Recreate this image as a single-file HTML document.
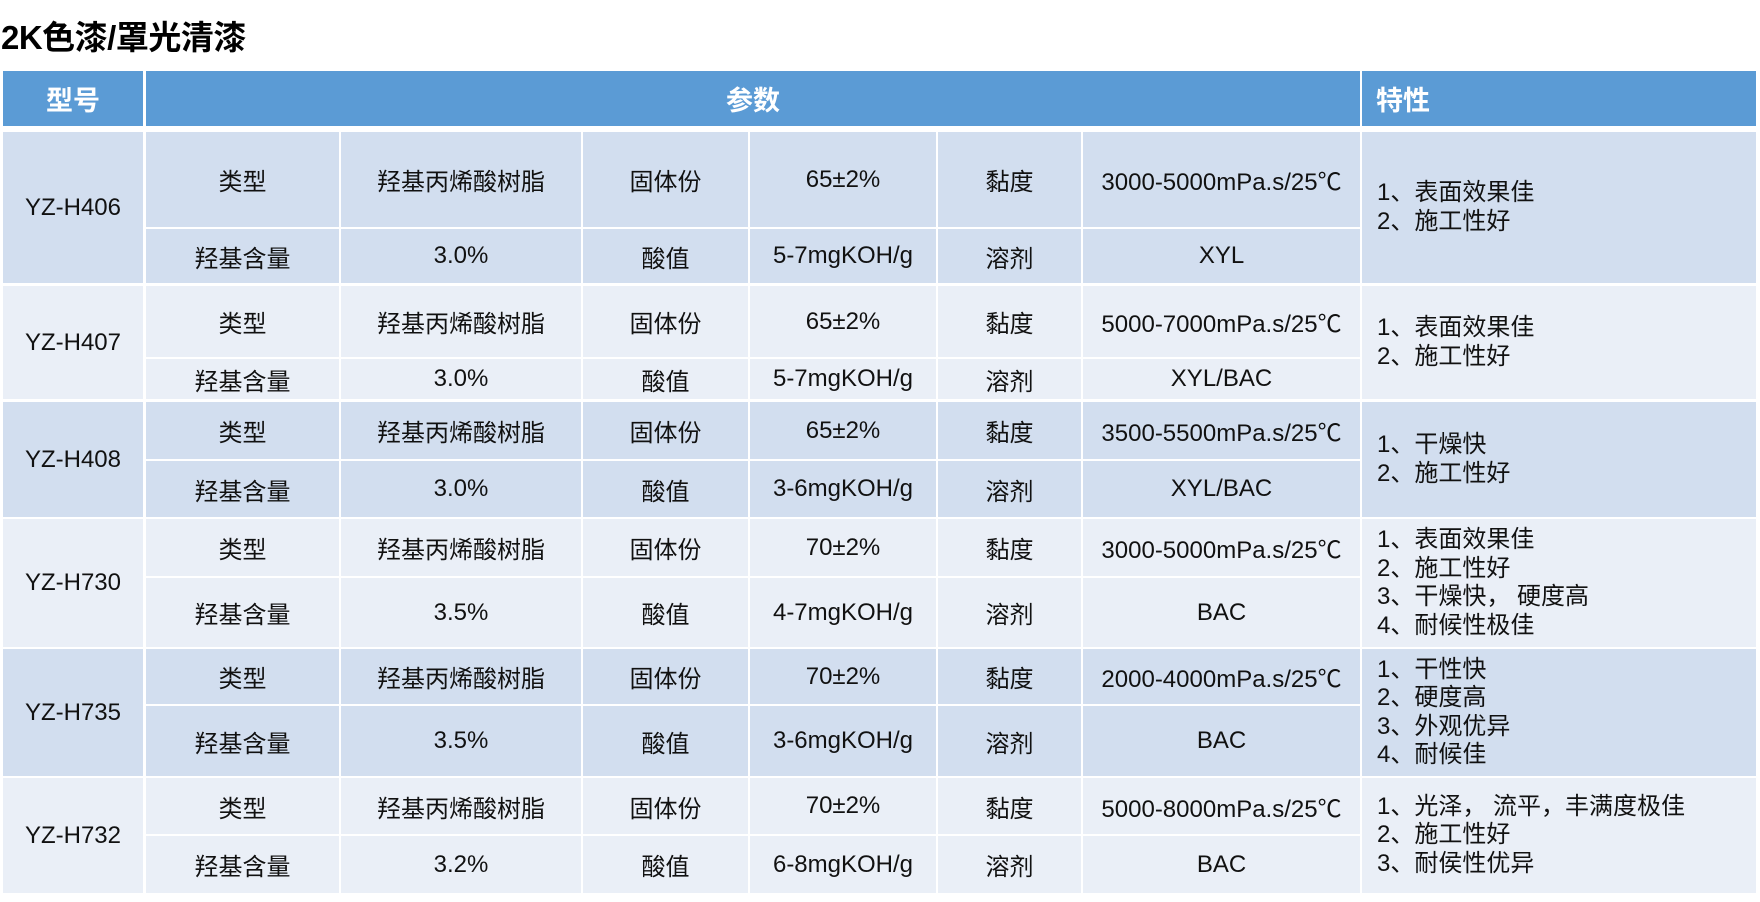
<!DOCTYPE html>
<html><head><meta charset="utf-8">
<style>
html,body{margin:0;padding:0;background:#fff;}
body{width:1760px;height:902px;position:relative;overflow:hidden;font-family:"Liberation Sans","Noto Sans CJK SC",sans-serif;color:#111;}
.t{position:absolute;left:1px;top:11px;font-size:33px;font-weight:bold;font-family:"Liberation Sans","Noto Sans CJK SC",sans-serif;color:#000;letter-spacing:-0.5px;}
.c{position:absolute;display:flex;align-items:center;justify-content:center;font-size:24px;white-space:nowrap;}
.h{background:#5B9BD5;color:#fff;font-weight:bold;font-size:27px;}
.d{background:#D2DEEF;}
.l{background:#EAEFF7;}
.f{justify-content:flex-start;padding-left:15px;box-sizing:border-box;line-height:28.5px;}
</style></head><body>
<div class="t">2K色漆/罩光清漆</div>

<!-- header -->
<div class="c h" style="left:3px;top:71px;width:140px;height:55px;">型号</div>
<div class="c h" style="left:146px;top:71px;width:1214px;height:55px;">参数</div>
<div class="c h" style="left:1362px;top:71px;width:394px;height:55px;justify-content:flex-start;padding-left:14px;box-sizing:border-box;">特性</div>

<!-- R1 -->
<div class="c d" style="left:3px;top:132px;width:140px;height:151px;">YZ-H406</div>
<div class="c d" style="left:146px;top:132px;width:193px;height:95px;">类型</div>
<div class="c d" style="left:341px;top:132px;width:240px;height:95px;">羟基丙烯酸树脂</div>
<div class="c d" style="left:583px;top:132px;width:165px;height:95px;">固体份</div>
<div class="c d" style="left:750px;top:132px;width:186px;height:95px;">65±2%</div>
<div class="c d" style="left:938px;top:132px;width:143px;height:95px;">黏度</div>
<div class="c d" style="left:1083px;top:132px;width:277px;height:95px;">3000-5000mPa.s/25℃</div>
<div class="c d" style="left:146px;top:229px;width:193px;height:54px;">羟基含量</div>
<div class="c d" style="left:341px;top:229px;width:240px;height:54px;">3.0%</div>
<div class="c d" style="left:583px;top:229px;width:165px;height:54px;">酸值</div>
<div class="c d" style="left:750px;top:229px;width:186px;height:54px;">5-7mgKOH/g</div>
<div class="c d" style="left:938px;top:229px;width:143px;height:54px;">溶剂</div>
<div class="c d" style="left:1083px;top:229px;width:277px;height:54px;">XYL</div>
<div class="c d f" style="left:1362px;top:132px;width:394px;height:151px;"><div>1、表面效果佳<br>2、施工性好</div></div>

<!-- R2 -->
<div class="c l" style="left:3px;top:286px;width:140px;height:113px;">YZ-H407</div>
<div class="c l" style="left:146px;top:286px;width:193px;height:71px;">类型</div>
<div class="c l" style="left:341px;top:286px;width:240px;height:71px;">羟基丙烯酸树脂</div>
<div class="c l" style="left:583px;top:286px;width:165px;height:71px;">固体份</div>
<div class="c l" style="left:750px;top:286px;width:186px;height:71px;">65±2%</div>
<div class="c l" style="left:938px;top:286px;width:143px;height:71px;">黏度</div>
<div class="c l" style="left:1083px;top:286px;width:277px;height:71px;">5000-7000mPa.s/25℃</div>
<div class="c l" style="left:146px;top:359px;width:193px;height:40px;">羟基含量</div>
<div class="c l" style="left:341px;top:359px;width:240px;height:40px;">3.0%</div>
<div class="c l" style="left:583px;top:359px;width:165px;height:40px;">酸值</div>
<div class="c l" style="left:750px;top:359px;width:186px;height:40px;">5-7mgKOH/g</div>
<div class="c l" style="left:938px;top:359px;width:143px;height:40px;">溶剂</div>
<div class="c l" style="left:1083px;top:359px;width:277px;height:40px;">XYL/BAC</div>
<div class="c l f" style="left:1362px;top:286px;width:394px;height:113px;"><div>1、表面效果佳<br>2、施工性好</div></div>

<!-- R3 -->
<div class="c d" style="left:3px;top:402px;width:140px;height:115px;">YZ-H408</div>
<div class="c d" style="left:146px;top:402px;width:193px;height:57px;">类型</div>
<div class="c d" style="left:341px;top:402px;width:240px;height:57px;">羟基丙烯酸树脂</div>
<div class="c d" style="left:583px;top:402px;width:165px;height:57px;">固体份</div>
<div class="c d" style="left:750px;top:402px;width:186px;height:57px;">65±2%</div>
<div class="c d" style="left:938px;top:402px;width:143px;height:57px;">黏度</div>
<div class="c d" style="left:1083px;top:402px;width:277px;height:57px;">3500-5500mPa.s/25℃</div>
<div class="c d" style="left:146px;top:461px;width:193px;height:56px;">羟基含量</div>
<div class="c d" style="left:341px;top:461px;width:240px;height:56px;">3.0%</div>
<div class="c d" style="left:583px;top:461px;width:165px;height:56px;">酸值</div>
<div class="c d" style="left:750px;top:461px;width:186px;height:56px;">3-6mgKOH/g</div>
<div class="c d" style="left:938px;top:461px;width:143px;height:56px;">溶剂</div>
<div class="c d" style="left:1083px;top:461px;width:277px;height:56px;">XYL/BAC</div>
<div class="c d f" style="left:1362px;top:402px;width:394px;height:115px;"><div>1、干燥快<br>2、施工性好</div></div>

<!-- R4 -->
<div class="c l" style="left:3px;top:519px;width:140px;height:128px;">YZ-H730</div>
<div class="c l" style="left:146px;top:519px;width:193px;height:57px;">类型</div>
<div class="c l" style="left:341px;top:519px;width:240px;height:57px;">羟基丙烯酸树脂</div>
<div class="c l" style="left:583px;top:519px;width:165px;height:57px;">固体份</div>
<div class="c l" style="left:750px;top:519px;width:186px;height:57px;">70±2%</div>
<div class="c l" style="left:938px;top:519px;width:143px;height:57px;">黏度</div>
<div class="c l" style="left:1083px;top:519px;width:277px;height:57px;">3000-5000mPa.s/25℃</div>
<div class="c l" style="left:146px;top:578px;width:193px;height:69px;">羟基含量</div>
<div class="c l" style="left:341px;top:578px;width:240px;height:69px;">3.5%</div>
<div class="c l" style="left:583px;top:578px;width:165px;height:69px;">酸值</div>
<div class="c l" style="left:750px;top:578px;width:186px;height:69px;">4-7mgKOH/g</div>
<div class="c l" style="left:938px;top:578px;width:143px;height:69px;">溶剂</div>
<div class="c l" style="left:1083px;top:578px;width:277px;height:69px;">BAC</div>
<div class="c l f" style="left:1362px;top:519px;width:394px;height:128px;"><div>1、表面效果佳<br>2、施工性好<br>3、干燥快， 硬度高<br>4、耐候性极佳</div></div>

<!-- R5 -->
<div class="c d" style="left:3px;top:649px;width:140px;height:127px;">YZ-H735</div>
<div class="c d" style="left:146px;top:649px;width:193px;height:55px;">类型</div>
<div class="c d" style="left:341px;top:649px;width:240px;height:55px;">羟基丙烯酸树脂</div>
<div class="c d" style="left:583px;top:649px;width:165px;height:55px;">固体份</div>
<div class="c d" style="left:750px;top:649px;width:186px;height:55px;">70±2%</div>
<div class="c d" style="left:938px;top:649px;width:143px;height:55px;">黏度</div>
<div class="c d" style="left:1083px;top:649px;width:277px;height:55px;">2000-4000mPa.s/25℃</div>
<div class="c d" style="left:146px;top:706px;width:193px;height:70px;">羟基含量</div>
<div class="c d" style="left:341px;top:706px;width:240px;height:70px;">3.5%</div>
<div class="c d" style="left:583px;top:706px;width:165px;height:70px;">酸值</div>
<div class="c d" style="left:750px;top:706px;width:186px;height:70px;">3-6mgKOH/g</div>
<div class="c d" style="left:938px;top:706px;width:143px;height:70px;">溶剂</div>
<div class="c d" style="left:1083px;top:706px;width:277px;height:70px;">BAC</div>
<div class="c d f" style="left:1362px;top:649px;width:394px;height:127px;"><div>1、干性快<br>2、硬度高<br>3、外观优异<br>4、耐候佳</div></div>

<!-- R6 -->
<div class="c l" style="left:3px;top:778px;width:140px;height:115px;">YZ-H732</div>
<div class="c l" style="left:146px;top:778px;width:193px;height:56px;">类型</div>
<div class="c l" style="left:341px;top:778px;width:240px;height:56px;">羟基丙烯酸树脂</div>
<div class="c l" style="left:583px;top:778px;width:165px;height:56px;">固体份</div>
<div class="c l" style="left:750px;top:778px;width:186px;height:56px;">70±2%</div>
<div class="c l" style="left:938px;top:778px;width:143px;height:56px;">黏度</div>
<div class="c l" style="left:1083px;top:778px;width:277px;height:56px;">5000-8000mPa.s/25℃</div>
<div class="c l" style="left:146px;top:836px;width:193px;height:57px;">羟基含量</div>
<div class="c l" style="left:341px;top:836px;width:240px;height:57px;">3.2%</div>
<div class="c l" style="left:583px;top:836px;width:165px;height:57px;">酸值</div>
<div class="c l" style="left:750px;top:836px;width:186px;height:57px;">6-8mgKOH/g</div>
<div class="c l" style="left:938px;top:836px;width:143px;height:57px;">溶剂</div>
<div class="c l" style="left:1083px;top:836px;width:277px;height:57px;">BAC</div>
<div class="c l f" style="left:1362px;top:778px;width:394px;height:115px;"><div>1、光泽， 流平，丰满度极佳<br>2、施工性好<br>3、耐侯性优异</div></div>

</body></html>
